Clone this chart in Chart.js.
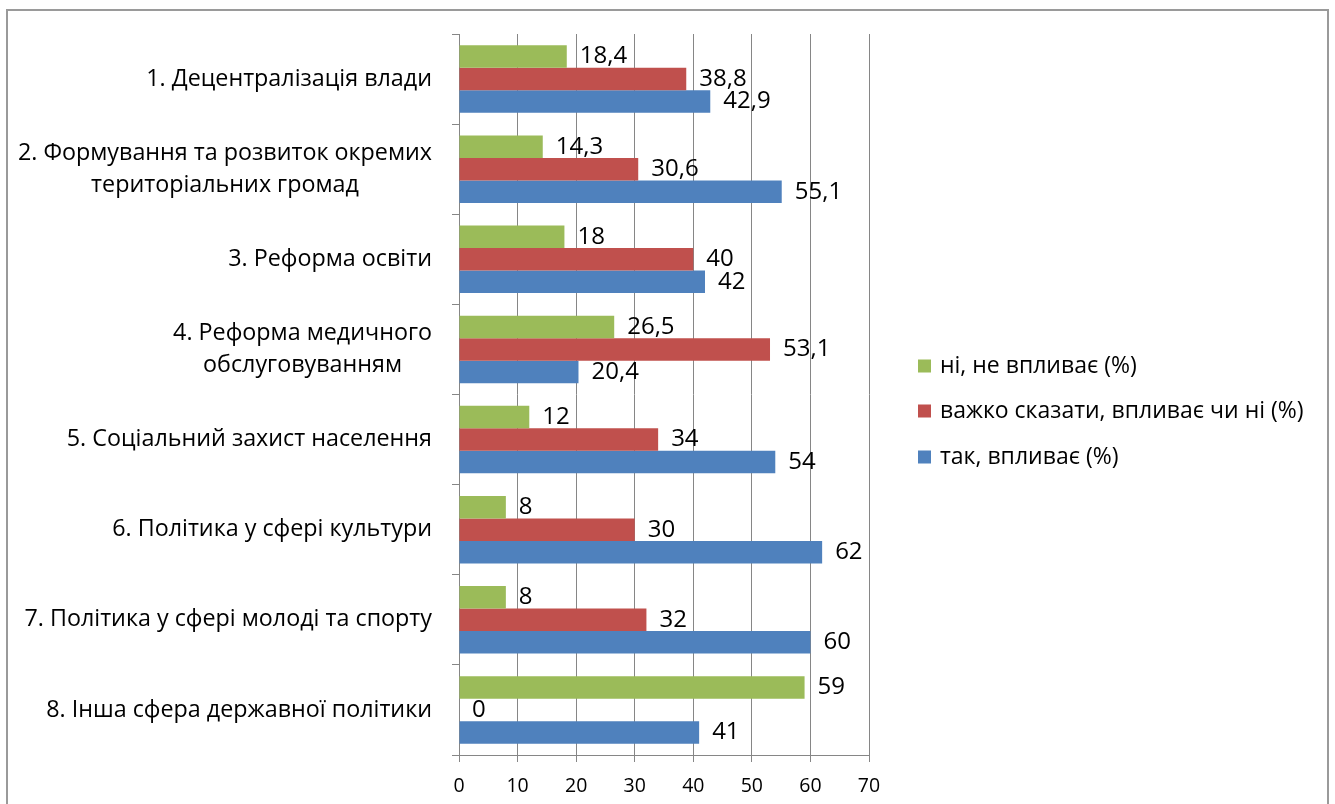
<!DOCTYPE html>
<html><head><meta charset="utf-8">
<script src="https://cdn.jsdelivr.net/npm/chart.js@4/dist/chart.umd.min.js"></script>
<style>html,body{margin:0;padding:0;background:#fff;overflow:hidden}#wrap{position:relative;width:1335px;height:804px}</style>
</head><body><div id="wrap"><canvas id="c" width="1335" height="804"></canvas></div>
<script>
const categories = [
  ["1. Децентралізація влади"],
  ["2. Формування та розвиток окремих", "територіальних громад"],
  ["3. Реформа освіти"],
  ["4. Реформа медичного", "обслуговуванням"],
  ["5. Соціальний захист населення"],
  ["6. Політика у сфері культури"],
  ["7. Політика у сфері молоді та спорту"],
  ["8. Інша сфера державної політики"]
];
const seriesNames = ["ні, не впливає (%)", "важко сказати, впливає чи ні (%)", "так, впливає (%)"];
const noValues   = [18.4, 14.3, 18, 26.5, 12, 8, 8, 59];
const hardValues = [38.8, 30.6, 40, 53.1, 34, 30, 32, 0];
const yesValues  = [42.9, 55.1, 42, 20.4, 54, 62, 60, 41];
const xTicks = [0, 10, 20, 30, 40, 50, 60, 70];
const seriesColors = ["#9BBB59", "#C0504D", "#4F81BD"];

const FONT = "'Open Sans', 'Noto Sans', sans-serif";
const CAT_SIZE = 23.3, LABEL_SIZE = 24, TICK_SIZE = 19.5, LEGEND_SIZE = 23;

const fmt = v => String(v).replace('.', ',');

const decor = {
  id: 'decor',
  afterDatasetsDraw(chart) {
    const ctx = chart.ctx;
    ctx.save();
    ctx.font = LABEL_SIZE + "px " + FONT;
    ctx.fillStyle = '#000';
    ctx.textAlign = 'left';
    ctx.textBaseline = 'middle';
    chart.data.datasets.forEach((ds, di) => {
      chart.getDatasetMeta(di).data.forEach((bar, i) => {
        ctx.fillText(fmt(ds.data[i]), bar.x + 13, bar.y);
      });
    });
    ctx.restore();
  },
  afterDraw(chart) {
    const ctx = chart.ctx;
    const ys = chart.scales.y;
    ctx.save();
    // category labels (multi-line blocks right-aligned, lines centred)
    ctx.font = CAT_SIZE + "px " + FONT;
    ctx.fillStyle = '#000';
    ctx.textBaseline = 'middle';
    ctx.textAlign = 'center';
    const lh = 32;
    chart.data.labels.forEach((lines, i) => {
      const yc = ys.getPixelForTick(i);
      const w = Math.max(...lines.map(l => ctx.measureText(l).width));
      const right = ys.right - 27;
      const cx = right - w / 2;
      const y0 = yc - (lines.length - 1) * lh / 2;
      lines.forEach((l, k) => ctx.fillText(l, cx, y0 + k * lh));
    });
    // legend
    ctx.font = LEGEND_SIZE + "px " + FONT;
    ctx.textAlign = 'left';
    const ly = [366, 411, 457];
    chart.data.datasets.forEach((ds, di) => {
      ctx.fillStyle = ds.backgroundColor;
      ctx.fillRect(918, ly[di] - 6.5, 13, 13);
      ctx.fillStyle = '#000';
      ctx.fillText(ds.label, 940, ly[di]);
    });
    // outer border
    ctx.strokeStyle = '#9a9a9a';
    ctx.lineWidth = 2;
    ctx.strokeRect(7, 10, 1321, 800);
    ctx.restore();
  }
};

new Chart(document.getElementById('c'), {
  type: 'bar',
  data: {
    labels: categories,
    datasets: [
      { label: seriesNames[0], data: noValues,   backgroundColor: seriesColors[0] },
      { label: seriesNames[1], data: hardValues, backgroundColor: seriesColors[1] },
      { label: seriesNames[2], data: yesValues,  backgroundColor: seriesColors[2] }
    ]
  },
  options: {
    indexAxis: 'y',
    responsive: false,
    animation: false,
    categoryPercentage: 0.75,
    barPercentage: 1,
    layout: { padding: { left: 0, top: 34, right: 466, bottom: 0 } },
    plugins: { legend: { display: false }, tooltip: { enabled: false } },
    scales: {
      x: {
        min: 0, max: 70,
        afterBuildTicks: s => { s.ticks = xTicks.map(v => ({ value: v })); },
        grid: { color: '#868686', tickLength: 7, lineWidth: 1 },
        border: { color: '#868686' },
        ticks: { font: { family: FONT, size: TICK_SIZE }, color: '#000', padding: 13, maxRotation: 0 },
        afterFit: s => { s.height = 49; }
      },
      y: {
        grid: { drawOnChartArea: false, offset: true, tickLength: 7, color: '#868686' },
        border: { color: '#868686' },
        ticks: { display: false },
        afterFit: s => { s.width = 459; }
      }
    }
  },
  plugins: [decor]
});
</script>
</body></html>
